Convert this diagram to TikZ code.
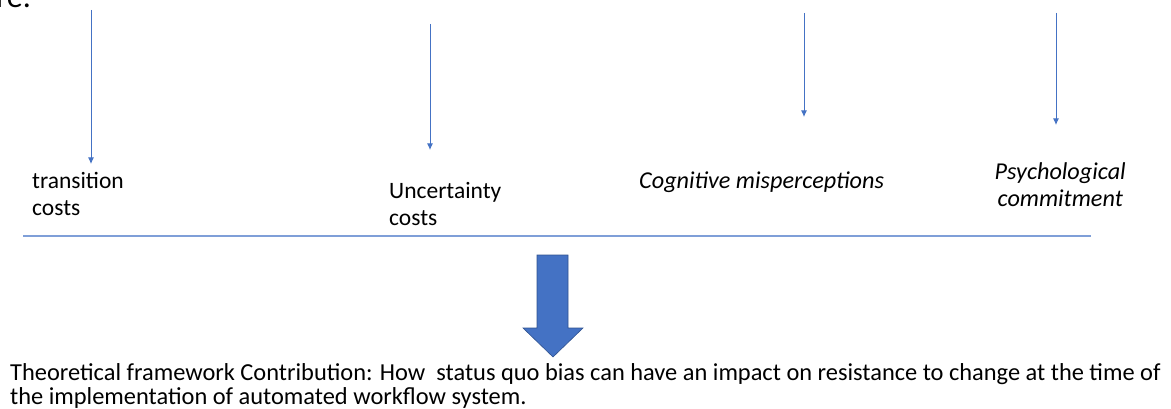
\documentclass[tikz,border=0pt]{standalone}
\usepackage{fontspec}
\setmainfont{Carlito}
\usetikzlibrary{arrows.meta,positioning}

\definecolor{lineblue}{HTML}{4472C4}
\definecolor{ruleblue}{HTML}{7F9FD8}
\definecolor{edgeblue}{HTML}{2F528F}
\def\labelsize{\fontsize{23.5}{27}\selectfont}
\def\slantsize{\fontsize{24.2}{27}\selectfont\itshape}
\def\notesize{\fontsize{24.4}{24}\selectfont}

\tikzset{
  feed/.style={draw=lineblue, line width=1pt, -{Latex[length=6.5pt,width=6pt]}},
  factor/.style={font=\labelsize, inner sep=0pt},
  bigarrow/.style={fill=lineblue, draw=edgeblue, line width=.6pt},
}

\begin{document}
\begin{tikzpicture}[x=1pt,y=-1pt]
\useasboundingbox (0,0) rectangle (1171,409);
% end of the caption above, cut off by the page
\node[anchor=base west, inner sep=0pt, font=\fontsize{32}{32}\selectfont] (prev) at (-4,8) {re.};

% the four status quo factors
\node[factor, anchor=north west, align=left] (trans) at (32,172) {transition\\costs};
\node[factor, anchor=north west, align=left] (unc) at (389,182) {Uncertainty\\costs};
\node[factor, anchor=north west, font=\slantsize] (cog) at (639,172) {Cognitive misperceptions};
\node[factor, anchor=north east, align=center, font=\slantsize] (psy) at (1126,162) {Psychological\\commitment};

% thin arrows from above
\foreach \n/\x/\ytop/\ytip in {%
    1/91/10/164,%
    2/430/24/150,%
    3/804/13/117,%
    4/1056/13/125%
  }{%
  \coordinate (top\n) at (\x,\ytop);
  \coordinate (tip\n) at (\x,\ytip);
  \draw[feed] (top\n) -- (tip\n);
}

% rule under the factors
\coordinate (ruleL) at (23,236);
\coordinate (ruleR) at (1091,236);
\draw[ruleblue, line width=1.2pt] (ruleL) -- (ruleR);

% block arrow down to the contribution
\draw[bigarrow] (537,255) -- (568,255) -- (568,328) -- (583,328)
  -- (553,357) -- (523,328) -- (537,328) -- cycle;

\node[anchor=north west, inner sep=0pt, align=left, font=\notesize] (contrib) at (10,363)
  {Theoretical framework Contribution: How\ \ status quo bias can have an impact on resistance to change at the time of\\
   the implementation of automated workflow system.};
\end{tikzpicture}
\end{document}
